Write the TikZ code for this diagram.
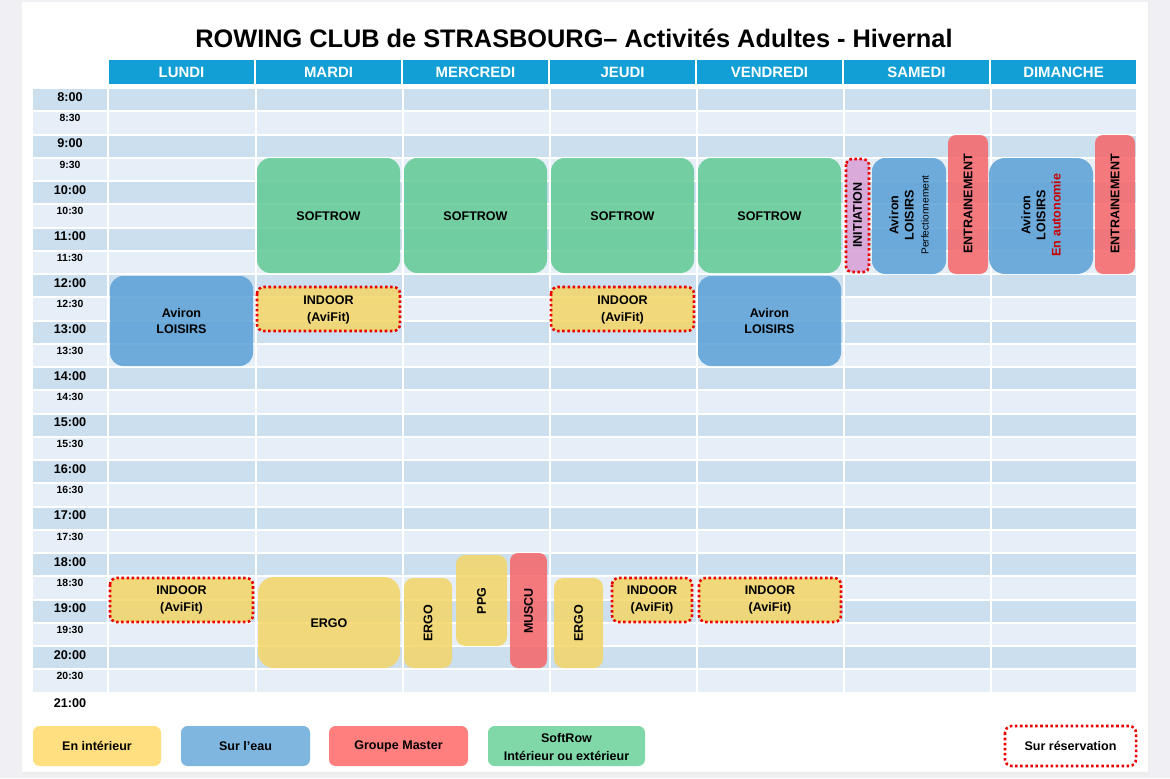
\documentclass[tikz,border=0pt]{standalone}
\usepackage{fontspec}
\setmainfont{Liberation Sans}
\usetikzlibrary{calc}

\definecolor{pagegrey}{RGB}{239,239,244}
\definecolor{headblue}{RGB}{18,159,214}
\definecolor{rowdark}{RGB}{204,223,238}
\definecolor{rowlight}{RGB}{230,239,247}
\definecolor{softgreen}{RGB}{96,202,148}
\definecolor{eaublue}{RGB}{90,160,215}
\definecolor{masterred}{RGB}{246,101,104}
\definecolor{indoorjaune}{RGB}{244,213,102}
\definecolor{initrose}{RGB}{216,160,214}
\definecolor{resared}{RGB}{235,0,0}
\definecolor{autored}{RGB}{200,0,0}
\definecolor{legjaune}{RGB}{255,223,128}
\definecolor{legbleu}{RGB}{127,182,223}
\definecolor{legrouge}{RGB}{255,127,127}
\definecolor{legvert}{RGB}{128,216,168}

\tikzset{
  slot/.style={fill=#1, fill opacity=0.85},
  resa/.style={draw=resared, line width=1.9pt, dash pattern=on 1.9pt off 1.9pt},
  lbl/.style={font=\bfseries\fontsize{9.4}{11.3}\selectfont, align=center, inner sep=0pt},
  indoorlbl/.style={font=\bfseries\fontsize{9.4}{12.8}\selectfont, align=center, inner sep=0pt},
  daylbl/.style={font=\bfseries\fontsize{11.2}{13}\selectfont, text=white, inner sep=0pt},
  hourlbl/.style={font=\bfseries\fontsize{9.5}{11}\selectfont, inner sep=0pt},
  halflbl/.style={font=\bfseries\fontsize{7.8}{9}\selectfont, inner sep=0pt},
  legtxt/.style={font=\bfseries\fontsize{9.4}{13.5}\selectfont, align=center, inner sep=0pt}
}

\begin{document}
\begin{tikzpicture}[x=0.75pt, y=-0.75pt]
\useasboundingbox (0,0) rectangle (1170,778);
\fill[pagegrey] (0,0) rectangle (1170,778);
\fill[black!7] (23,4) rectangle (1150,775);
\fill[white] (22,2) rectangle (1148,772);

\node[font=\bfseries\fontsize{19}{22}\selectfont] (titre) at (574,38) {ROWING CLUB de STRASBOURG– Activités Adultes - Hivernal};

% jours
\foreach \d [count=\j from 0] in {LUNDI,MARDI,MERCREDI,JEUDI,VENDREDI,SAMEDI,DIMANCHE} {
  \fill[headblue] ({109+147*\j},60) rectangle ({254+147*\j},84);
  \node[daylbl] (jour\j) at ({181.5+147*\j},72.5) {\d};
}

% lignes de la grille
\foreach \i in {0,2,...,24} {
  \fill[rowdark] (33,{89+23.25*\i}) rectangle (107,{110.25+23.25*\i});
  \fill[rowdark] (109,{89+23.25*\i}) rectangle (1136,{110.25+23.25*\i});
}
\foreach \i in {1,3,...,25} {
  \fill[rowlight] (33,{89+23.25*\i}) rectangle (107,{110.25+23.25*\i});
  \fill[rowlight] (109,{89+23.25*\i}) rectangle (1136,{110.25+23.25*\i});
}
\foreach \j in {1,...,6}
  \fill[white] ({107.5+147*\j},88) rectangle ({109.5+147*\j},693);

% heures
\foreach \h [count=\k from 0] in {8,...,20} {
  \node[hourlbl] (h\h) at (70,{97+46.5*\k}) {\h:00};
  \node[halflbl] (m\h) at (70,{118+46.5*\k}) {\h:30};
}
\node[hourlbl] (h21) at (70,703) {21:00};

% matin
\foreach \j/\n in {1/Ma,2/Me,3/Je,4/Ve} {
  \fill[slot=softgreen, rounded corners=10pt] ({110+147*\j},158) rectangle ({253+147*\j},273);
  \node[lbl] (soft\n) at ({181.5+147*\j},216) {SOFTROW};
}
\fill[slot=eaublue, rounded corners=10pt] (110,276) rectangle (253,366);
\node[lbl] (avironLu) at (181.5,321) {Aviron\\LOISIRS};
\fill[slot=eaublue, rounded corners=10pt] (698,276) rectangle (841,366);
\node[lbl] (avironVe) at (769.5,321) {Aviron\\LOISIRS};
\filldraw[slot=indoorjaune, resa, rounded corners=5pt] (257,287) rectangle (400,331);
\node[indoorlbl] (indoorMa) at (328.5,310) {INDOOR\\(AviFit)};
\filldraw[slot=indoorjaune, resa, rounded corners=5pt] (551,287) rectangle (694,331);
\node[indoorlbl] (indoorJe) at (622.5,310) {INDOOR\\(AviFit)};

% week-end
\filldraw[slot=initrose, resa, rounded corners=4pt] (846,159) rectangle (869,272);
\node[lbl, rotate=90] (initSa) at (857.5,215) {INITIATION};
\fill[slot=eaublue, rounded corners=10pt] (872,158) rectangle (946,274);
\node[lbl, rotate=90] (avironSa) at (909,215) {Aviron\\LOISIRS\\\mdseries\fontsize{7.6}{9}\selectfont Perfectionnement};
\fill[slot=masterred, rounded corners=6pt] (948,135) rectangle (988,274);
\node[lbl, rotate=90] (entrSa) at (968,204) {ENTRAINEMENT};
\fill[slot=eaublue, rounded corners=12pt] (989,158) rectangle (1093,274);
\node[lbl, rotate=90] (avironDi) at (1041,215) {Aviron\\LOISIRS\\\color{autored}En autonomie};
\fill[slot=masterred, rounded corners=6pt] (1095,135) rectangle (1135,274);
\node[lbl, rotate=90] (entrDi) at (1115,204) {ENTRAINEMENT};

% soir
\filldraw[slot=indoorjaune, resa, rounded corners=5pt] (110,578) rectangle (253,622);
\node[indoorlbl] (indoorLu) at (181.5,600) {INDOOR\\(AviFit)};
\fill[slot=indoorjaune, rounded corners=12pt] (258,577) rectangle (400,668);
\node[lbl] (ergoMa) at (329,623) {ERGO};
\fill[slot=indoorjaune, rounded corners=7pt] (404,578) rectangle (452,668);
\node[lbl, rotate=90] (ergoMe) at (428,623) {ERGO};
\fill[slot=indoorjaune, rounded corners=7pt] (456,555) rectangle (507,646);
\node[lbl, rotate=90] (ppgMe) at (481.5,601) {PPG};
\fill[slot=masterred, rounded corners=6pt] (510,553) rectangle (547,668);
\node[lbl, rotate=90] (muscuMe) at (528.5,611) {MUSCU};
\fill[slot=indoorjaune, rounded corners=7pt] (554,578) rectangle (603,668);
\node[lbl, rotate=90] (ergoJe) at (578.5,623) {ERGO};
\filldraw[slot=indoorjaune, resa, rounded corners=5pt] (612,578) rectangle (692,622);
\node[indoorlbl] (indoorJe2) at (652,600) {INDOOR\\(AviFit)};
\filldraw[slot=indoorjaune, resa, rounded corners=5pt] (699,578) rectangle (841,622);
\node[indoorlbl] (indoorVe) at (770,600) {INDOOR\\(AviFit)};

% legende
\fill[legjaune, rounded corners=5pt] (33,726) rectangle (161,766);
\node[legtxt] (legInt) at (97,746) {En intérieur};
\fill[legbleu, rounded corners=5pt] (181,726) rectangle (310,766);
\node[legtxt] (legEau) at (245.5,746) {Sur l’eau};
\fill[legrouge, rounded corners=5pt] (329,726) rectangle (468,766);
\node[legtxt] (legMaster) at (398.5,746) {Groupe Master};
\fill[legvert, rounded corners=5pt] (488,726) rectangle (645,766);
\node[legtxt] (legSoft) at (566.5,747) {SoftRow\\Intérieur ou extérieur};
\draw[resa, fill=white, rounded corners=5pt] (1005,726) rectangle (1136,766);
\node[legtxt] (legResa) at (1070.5,746) {Sur réservation};
\end{tikzpicture}
\end{document}
